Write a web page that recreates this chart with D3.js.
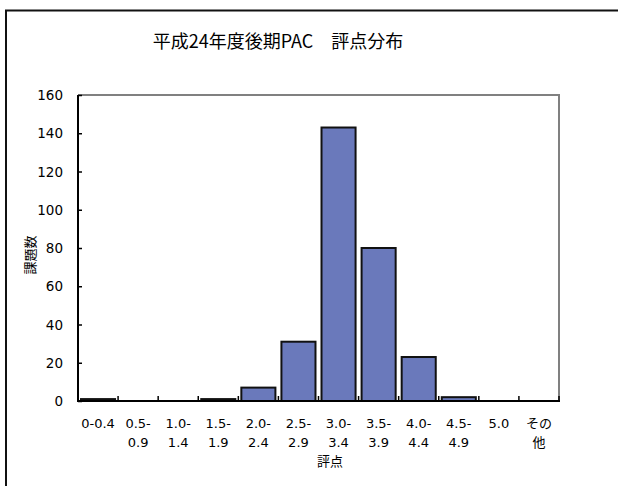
<!DOCTYPE html>
<html>
<head>
<meta charset="utf-8">
<script src="https://cdn.jsdelivr.net/npm/d3@7"></script>
<style>
  html, body { margin: 0; padding: 0; background: #fff; }
  svg { display: block; }
  .num { font-family: "DejaVu Sans", Verdana, sans-serif; font-size: 13.5px; fill: #000; }
  .jp { font-family: "Noto Sans CJK JP", sans-serif; fill: #000; }
</style>
</head>
<body>
<svg id="chart" width="618" height="486"></svg>
<script>
// Score bins and number of assignments in each bin
const categories = ["0-0.4", "0.5-0.9", "1.0-1.4", "1.5-1.9", "2.0-2.4", "2.5-2.9",
                    "3.0-3.4", "3.5-3.9", "4.0-4.4", "4.5-4.9", "5.0", "その他"];
const counts = [1, 0, 0, 1, 7, 31, 143, 80, 23, 2, 0, 0];
// Axis tick labels (x labels wrap onto two lines)
const xTickLines = [["0-0.4"], ["0.5-", "0.9"], ["1.0-", "1.4"], ["1.5-", "1.9"],
                    ["2.0-", "2.4"], ["2.5-", "2.9"], ["3.0-", "3.4"], ["3.5-", "3.9"],
                    ["4.0-", "4.4"], ["4.5-", "4.9"], ["5.0"], ["その", "他"]];
const yTicks = [0, 20, 40, 60, 80, 100, 120, 140, 160];
const title = "平成24年度後期PAC\u3000評点分布";
const xTitle = "評点";
const yTitle = "課題数";

const svg = d3.select("#chart");

// Outer chart frame (continues past the right and bottom edges)
svg.append("rect")
  .attr("x", 6).attr("y", 10.5)
  .attr("width", 640).attr("height", 500)
  .attr("fill", "#fff").attr("stroke", "#111").attr("stroke-width", 2);

const plot = { left: 78, right: 559, top: 95, bottom: 401 };

const x = d3.scaleBand()
  .domain(categories)
  .range([plot.left, plot.right])
  .paddingInner(0.15)
  .paddingOuter(0.075);

const y = d3.scaleLinear()
  .domain([0, 160])
  .range([plot.bottom, plot.top]);

// Title
svg.append("text")
  .attr("class", "jp")
  .attr("x", 278).attr("y", 48)
  .attr("text-anchor", "middle")
  .style("font-size", "18px")
  .text(title);

// Top and right plot border (grey)
svg.append("path")
  .attr("d", `M${plot.left},${plot.top}H${plot.right}V${plot.bottom}`)
  .attr("fill", "none").attr("stroke", "#808080").attr("stroke-width", 2);

// Bars
svg.append("g").selectAll("rect")
  .data(counts)
  .join("rect")
  .attr("x", (d, i) => x(categories[i]))
  .attr("width", x.bandwidth())
  .attr("y", d => y(d))
  .attr("height", d => y(0) - y(d))
  .attr("fill", "#6a79bb")
  .attr("stroke", "#111")
  .attr("stroke-width", 2);

// Y axis with inside ticks
const yAxis = d3.axisLeft(y).tickValues(yTicks).tickSize(-4).tickPadding(15);
const gy = svg.append("g")
  .attr("transform", `translate(${plot.left},0)`)
  .call(yAxis);
gy.select(".domain").attr("stroke", "#000").attr("stroke-width", 2)
  .attr("d", `M0,${plot.top}V${plot.bottom}`);
gy.selectAll(".tick line").attr("stroke", "#000").attr("stroke-width", 1.5);
gy.selectAll(".tick text").attr("class", "num").attr("dy", "0.35em");

// X axis line and boundary ticks between bins
const step = x.step();
const boundaries = d3.range(categories.length + 1).map(i => plot.left + i * step);
const gx = svg.append("g");
gx.append("line")
  .attr("x1", plot.left - 1).attr("x2", plot.right + 1)
  .attr("y1", plot.bottom).attr("y2", plot.bottom)
  .attr("stroke", "#000").attr("stroke-width", 2);
gx.selectAll("line.tk")
  .data(boundaries.slice(1))
  .join("line")
  .attr("class", "tk")
  .attr("x1", d => d).attr("x2", d => d)
  .attr("y1", plot.bottom).attr("y2", plot.bottom - 5)
  .attr("stroke", "#000").attr("stroke-width", 1.5);

// X tick labels (wrapped)
const lbl = svg.append("g").selectAll("text")
  .data(categories)
  .join("text")
  .attr("text-anchor", "middle")
  .attr("class", (d, i) => /^[0-9.\-]+$/.test(d) ? "num" : "jp")
  .style("font-size", "13px")
  .attr("x", d => x(d) + x.bandwidth() / 2)
  .attr("y", 428);
lbl.each(function (d, i) {
  d3.select(this).selectAll("tspan")
    .data(xTickLines[i])
    .join("tspan")
    .attr("x", x(d) + x.bandwidth() / 2)
    .attr("dy", (t, j) => j === 0 ? 0 : 19)
    .text(t => t);
});

// Axis titles
svg.append("text")
  .attr("class", "jp")
  .attr("x", 330).attr("y", 466)
  .attr("text-anchor", "middle")
  .style("font-size", "13px")
  .text(xTitle);

svg.append("text")
  .attr("class", "jp")
  .attr("transform", "translate(35,255) rotate(-90)")
  .attr("text-anchor", "middle")
  .style("font-size", "13px")
  .text(yTitle);
</script>
</body>
</html>
